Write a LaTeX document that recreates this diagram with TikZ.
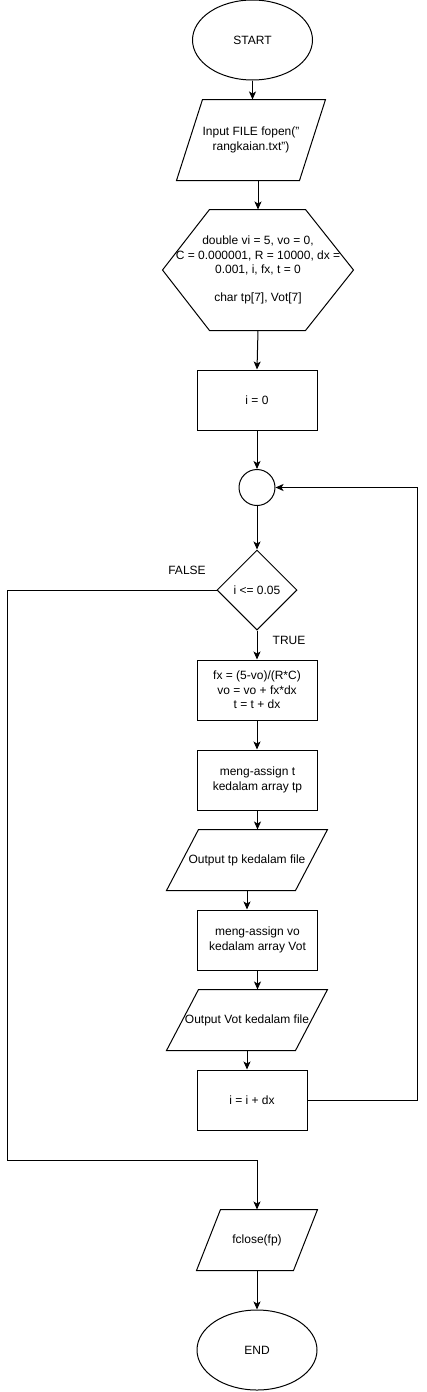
\documentclass[tikz,border=0pt]{standalone}
\usepackage{fontspec}
\setmainfont{Liberation Sans}
\usetikzlibrary{shapes.geometric,arrows.meta}

\tikzset{
  term/.style={draw, ellipse, minimum width=120pt, minimum height=80pt},
  proc/.style={draw, rectangle, minimum width=120pt, minimum height=60pt},
  iobox/.style={rectangle, minimum height=60pt},
  arr/.style={-{Stealth[length=8pt,width=7pt,inset=2pt]}},
}
\newcommand{\dq}{\char"22\relax}
% parallelogram round a node: name, slant
\newcommand{\ioframe}[2]{\draw ([xshift=#2]#1.north west) -- (#1.north east)
  -- ([xshift=-#2]#1.south east) -- (#1.south west) -- cycle;}

\begin{document}
\begin{tikzpicture}[x=1pt, y=-1pt, line width=1pt,
  font=\fontsize{12}{14.5}\selectfont,
  every node/.append style={align=center, inner sep=0pt}]
\useasboundingbox (0,0) rectangle (427,1392);
\node[term] (start) at (252.5,40) {START};
\node[iobox, minimum width=148pt, minimum height=80pt] (input) at (251,140) {Input FILE fopen(\dq\\ rangkaian.txt\dq)};
\ioframe{input}{26pt}
\node[minimum width=190pt, minimum height=120pt] (vars) at (258,270) {double vi = 5, vo = 0,\\ C = 0.000001, R = 10000, dx =\\ 0.001, i, fx, t = 0\\[13pt] char tp[7], Vot[7]};
\draw ([xshift=47pt]vars.north west) -- ([xshift=-48pt]vars.north east) -- (vars.east)
  -- ([xshift=-48pt]vars.south east) -- ([xshift=47pt]vars.south west) -- (vars.west) -- cycle;
\node[proc] (init) at (257,400) {i = 0};
\node[draw, circle, minimum size=36pt] (join) at (257,487.5) {};
\node[draw, diamond, minimum width=80pt, minimum height=80pt] (cond) at (257,590) {i <= 0.05};
\node (false) at (187,570) {FALSE};
\node (true) at (289,640) {TRUE};
\node[proc] (calc) at (257,690) {fx = (5-vo)/(R*C)\\ vo = vo + fx*dx\\ t = t + dx};
\node[proc] (asgt) at (257.5,780) {meng-assign t\\ kedalam array tp};
\node[iobox, minimum width=160pt] (outtp) at (247,860) {Output tp kedalam file};
\ioframe{outtp}{32pt}
\node[proc] (asgv) at (257.5,940) {meng-assign vo\\ kedalam array Vot};
\node[iobox, minimum width=160pt] (outvot) at (247,1020) {Output Vot kedalam file};
\ioframe{outvot}{32pt}
\node[proc, minimum width=110pt] (incr) at (252,1100) {i = i + dx};
\node[iobox, minimum width=120pt] (fclose) at (257,1240) {fclose(fp)};
\ioframe{fclose}{24pt}
\node[term] (end) at (257,1350) {END};
\coordinate (fbend) at (7.5,1160);
% main line
\draw[arr] (start) -- (start |- input.north);
\draw[arr] (input.south -| vars.north) -- (vars.north);
\draw[arr] (vars.south) -- (init.north);
\draw[arr] (init) -- (join);
\draw[arr] (join) -- (cond);
\draw[arr] (cond) -- (calc);
\draw[arr] (calc) -- (calc |- asgt.north);
\draw[arr] (asgt) -- (asgt |- outtp.north);
\draw[arr] (outtp.south) -- (outtp.south |- asgv.north);
\draw[arr] (asgv) -- (asgv |- outvot.north);
\draw[arr] (outvot.south) -- (outvot.south |- incr.north);
% loop back and exit
\draw[arr] (incr.east) -- ++(110,0) |- (join.east);
\draw[arr] (cond.west) -| (fbend) -| (fclose.north);
\draw[arr] (fclose) -- (end);
\end{tikzpicture}
\end{document}
